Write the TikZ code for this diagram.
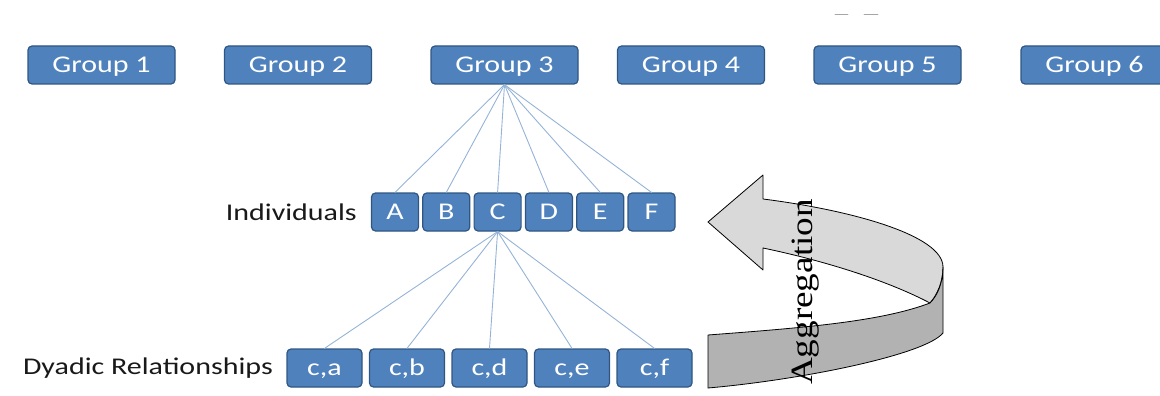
\documentclass[tikz,border=0pt]{standalone}
\usepackage{fontspec}
\newfontfamily\boxfont[FakeStretch=1.25]{Carlito}
\newfontfamily\aggfont[FakeStretch=1.2]{Liberation Serif}
\definecolor{boxblue}{HTML}{4F81BD}
\definecolor{boxedge}{HTML}{2F5683}
\definecolor{linkblue}{HTML}{95B3D7}
\definecolor{frontgray}{HTML}{D9D9D9}
\definecolor{backgray}{HTML}{B2B2B2}
\tikzset{
	grp/.style={draw=boxedge,line width=1.2pt,fill=boxblue,rounded corners=4pt,minimum width=147pt,minimum height=38pt,inner sep=0pt,text height=16pt,text depth=1pt,text=white,font=\boxfont\fontsize{24}{26}\selectfont},
	ind/.style={grp,minimum width=47pt},
	dyad/.style={grp,minimum width=75pt},
	link/.style={draw=linkblue,line width=0.9pt},
	rowlabel/.style={anchor=east,inner sep=0pt,text=black!90,font=\boxfont\fontsize{24}{26}\selectfont}
}
\begin{document}
\begin{tikzpicture}[line cap=round,line join=round,x=1pt,y=-1pt]
	\useasboundingbox (0,0) rectangle (1160,396);
	\clip (0,0) rectangle (1160,396);
	\draw [line width=0.8pt,gray!70] (835,14)-- (848,14);
	\draw [line width=0.8pt,gray!70] (864,14)-- (878,14);
	\node[grp] (g1) at (101.5,65) {Group 1};
	\node[grp] (g2) at (298,65) {Group 2};
	\node[grp] (g3) at (504.5,65) {Group 3};
	\node[grp] (g4) at (691,65) {Group 4};
	\node[grp] (g5) at (887.5,65) {Group 5};
	\node[grp] (g6) at (1094.5,65) {Group 6};
	\foreach \n [count=\i] in {A,B,C,D,E,F}
		\node[ind] (\n) at ({395+(\i-1)*51.3},212) {\n};
	\foreach \p [count=\i] in {a,b,d,e,f}
		\node[dyad] (c\p) at ({324.5+(\i-1)*82.5},368) {c,\p};
	\foreach \n in {A,B,C,D,E,F}
		\draw[link] (g3.south) -- (\n.north);
	\foreach \p in {a,b,d,e,f}
		\draw[link] (C.south) -- (c\p.north);
	\node[rowlabel] (indlabel) at (357,212) {Individuals};
	\node[rowlabel] (dyadlabel) at (273,368) {Dyadic Relationships};
	\draw [line width=0.8pt,fill=frontgray] (708,222)-- (763,175)-- (763,199) .. controls (850,210) and (943,235) .. (943,267) .. controls (943,282) and (937,295) .. (930,303) .. controls (890,282) and (830,262) .. (763,248)-- (763,270)-- cycle;
	\draw [line width=0.8pt,fill=backgray] (708,335) .. controls (800,328) and (880,322) .. (930,303) .. controls (938,295) and (943,282) .. (943,267)-- (943,333) .. controls (925,355) and (800,380) .. (708,388)-- cycle;
	\node[rotate=90,anchor=base,inner sep=0pt,font=\aggfont\fontsize{31}{33}\selectfont] (agg) at (812,292) {Aggregation};
\end{tikzpicture}
\end{document}
